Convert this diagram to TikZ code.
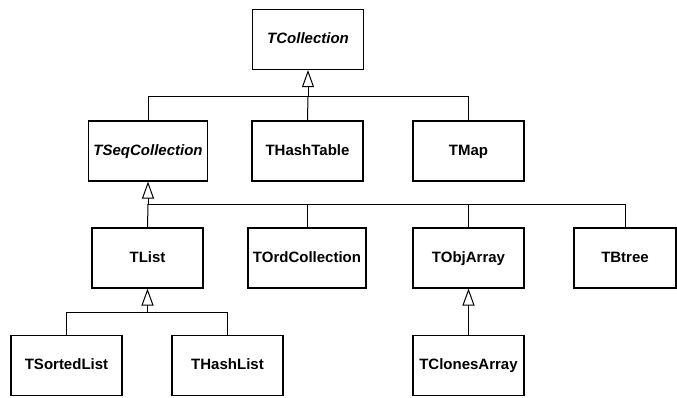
\documentclass[tikz,border=0pt]{standalone}
\usepackage{fontspec}
\setmainfont{Liberation Sans}
\usetikzlibrary{arrows.meta}

\begin{document}
\begin{tikzpicture}[
	x=1pt, y=-1pt,
	cls/.style={ draw, line width=1.1pt, minimum width=111pt, minimum height=60pt, inner xsep=5pt, text height=11pt, text depth=3pt, font=\fontsize{15}{18}\selectfont\bfseries },
	abstr/.style={ cls, font=\fontsize{15}{18}\selectfont\bfseries\itshape },
	inh/.style={ line width=1pt, -{Triangle[open,length=17pt,width=12pt]} },
	lnk/.style={ line width=1pt }
]
\useasboundingbox (0,0) rectangle (677,397);

\node at (308,39.5) (coll) [abstr] {TCollection};
\node at (148,151) (seq) [abstr] {TSeqCollection};
\node at (307.5,151) (htab) [cls] {THashTable};
\node at (468.5,151) (map) [cls] {TMap};
\node at (147.5,258) (tlist) [cls] {TList};
\node at (307,258) (ord) [cls] {TOrdCollection};
\node at (468.5,258) (obj) [cls] {TObjArray};
\node at (625,258) (btree) [cls, minimum width=102pt] {TBtree};
\node at (66.5,365.5) (sorted) [cls] {TSortedList};
\node at (227.5,365.5) (hlist) [cls] {THashList};
\node at (468.5,365.5) (clones) [cls] {TClonesArray};

\coordinate (j1) at (308,96);
\coordinate (j2) at (148,204);
\coordinate (j3) at (147.5,312);

\draw[inh] (j1) -- (coll.south);
\draw[lnk] (seq.north) |- (j1);
\draw[lnk] (htab.north) -- (j1);
\draw[lnk] (map.north) |- (j1);

\draw[inh] (j2) -- (seq.south);
\draw[lnk] (tlist.north) -- (j2);
\draw[lnk] (ord.north) |- (j2);
\draw[lnk] (obj.north) |- (j2);
\draw[lnk] (btree.north) |- (j2);

\draw[inh] (j3) -- (tlist.south);
\draw[lnk] (sorted.north) |- (j3);
\draw[lnk] (hlist.north) |- (j3);

\draw[inh] (clones.north) -- (obj.south);

\end{tikzpicture}
\end{document}
